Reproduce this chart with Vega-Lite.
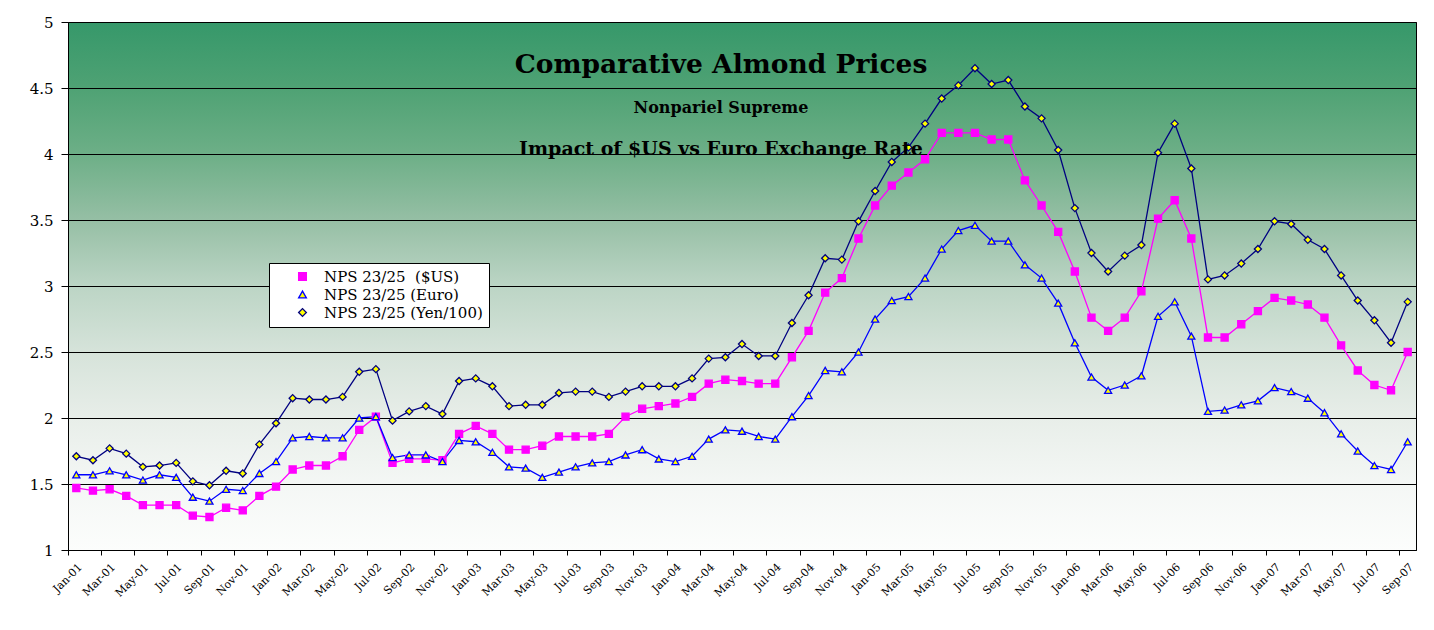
{
  "$schema": "https://vega.github.io/schema/vega-lite/v6.json",
  "width": 1348,
  "height": 528,
  "autosize": {"type": "none"},
  "padding": {"left": 68, "top": 22, "right": 18, "bottom": 80},
  "background": "white",
  "view": {
    "fill": {"gradient": "linear", "x1": 0, "y1": 1, "x2": 0, "y2": 0,
      "stops": [
        {"offset": 0, "color": "#fcfdfc"},
        {"offset": 0.125, "color": "#f4f7f5"},
        {"offset": 0.25, "color": "#e8eee9"},
        {"offset": 0.375, "color": "#d6e3da"},
        {"offset": 0.5, "color": "#bcd5c5"},
        {"offset": 0.625, "color": "#96bfa5"},
        {"offset": 0.75, "color": "#6daf87"},
        {"offset": 0.875, "color": "#4fa274"},
        {"offset": 1, "color": "#36986a"}
      ]},
    "stroke": "black",
    "strokeWidth": 1
  },
  "data": {"values": [
    {"m":"Jan-01","us":1.47,"eu":1.57,"yen":1.71},
    {"m":"Feb-01","us":1.45,"eu":1.57,"yen":1.68},
    {"m":"Mar-01","us":1.46,"eu":1.60,"yen":1.77},
    {"m":"Apr-01","us":1.41,"eu":1.57,"yen":1.73},
    {"m":"May-01","us":1.34,"eu":1.53,"yen":1.63},
    {"m":"Jun-01","us":1.34,"eu":1.57,"yen":1.64},
    {"m":"Jul-01","us":1.34,"eu":1.55,"yen":1.66},
    {"m":"Aug-01","us":1.26,"eu":1.40,"yen":1.52},
    {"m":"Sep-01","us":1.25,"eu":1.37,"yen":1.49},
    {"m":"Oct-01","us":1.32,"eu":1.46,"yen":1.60},
    {"m":"Nov-01","us":1.30,"eu":1.45,"yen":1.58},
    {"m":"Dec-01","us":1.41,"eu":1.58,"yen":1.80},
    {"m":"Jan-02","us":1.48,"eu":1.67,"yen":1.96},
    {"m":"Feb-02","us":1.61,"eu":1.85,"yen":2.15},
    {"m":"Mar-02","us":1.64,"eu":1.86,"yen":2.14},
    {"m":"Apr-02","us":1.64,"eu":1.85,"yen":2.14},
    {"m":"May-02","us":1.71,"eu":1.85,"yen":2.16},
    {"m":"Jun-02","us":1.91,"eu":2.00,"yen":2.35},
    {"m":"Jul-02","us":2.01,"eu":2.01,"yen":2.37},
    {"m":"Aug-02","us":1.66,"eu":1.70,"yen":1.98},
    {"m":"Sep-02","us":1.69,"eu":1.72,"yen":2.05},
    {"m":"Oct-02","us":1.69,"eu":1.72,"yen":2.09},
    {"m":"Nov-02","us":1.68,"eu":1.67,"yen":2.03},
    {"m":"Dec-02","us":1.88,"eu":1.83,"yen":2.28},
    {"m":"Jan-03","us":1.94,"eu":1.82,"yen":2.30},
    {"m":"Feb-03","us":1.88,"eu":1.74,"yen":2.24},
    {"m":"Mar-03","us":1.76,"eu":1.63,"yen":2.09},
    {"m":"Apr-03","us":1.76,"eu":1.62,"yen":2.10},
    {"m":"May-03","us":1.79,"eu":1.55,"yen":2.10},
    {"m":"Jun-03","us":1.86,"eu":1.59,"yen":2.19},
    {"m":"Jul-03","us":1.86,"eu":1.63,"yen":2.20},
    {"m":"Aug-03","us":1.86,"eu":1.66,"yen":2.20},
    {"m":"Sep-03","us":1.88,"eu":1.67,"yen":2.16},
    {"m":"Oct-03","us":2.01,"eu":1.72,"yen":2.20},
    {"m":"Nov-03","us":2.07,"eu":1.76,"yen":2.24},
    {"m":"Dec-03","us":2.09,"eu":1.69,"yen":2.24},
    {"m":"Jan-04","us":2.11,"eu":1.67,"yen":2.24},
    {"m":"Feb-04","us":2.16,"eu":1.71,"yen":2.30},
    {"m":"Mar-04","us":2.26,"eu":1.84,"yen":2.45},
    {"m":"Apr-04","us":2.29,"eu":1.91,"yen":2.46},
    {"m":"May-04","us":2.28,"eu":1.90,"yen":2.56},
    {"m":"Jun-04","us":2.26,"eu":1.86,"yen":2.47},
    {"m":"Jul-04","us":2.26,"eu":1.84,"yen":2.47},
    {"m":"Aug-04","us":2.46,"eu":2.01,"yen":2.72},
    {"m":"Sep-04","us":2.66,"eu":2.17,"yen":2.93},
    {"m":"Oct-04","us":2.95,"eu":2.36,"yen":3.21},
    {"m":"Nov-04","us":3.06,"eu":2.35,"yen":3.20},
    {"m":"Dec-04","us":3.36,"eu":2.50,"yen":3.49},
    {"m":"Jan-05","us":3.61,"eu":2.75,"yen":3.72},
    {"m":"Feb-05","us":3.76,"eu":2.89,"yen":3.94},
    {"m":"Mar-05","us":3.86,"eu":2.92,"yen":4.05},
    {"m":"Apr-05","us":3.96,"eu":3.06,"yen":4.23},
    {"m":"May-05","us":4.16,"eu":3.28,"yen":4.42},
    {"m":"Jun-05","us":4.16,"eu":3.42,"yen":4.52},
    {"m":"Jul-05","us":4.16,"eu":3.46,"yen":4.65},
    {"m":"Aug-05","us":4.11,"eu":3.34,"yen":4.53},
    {"m":"Sep-05","us":4.11,"eu":3.34,"yen":4.56},
    {"m":"Oct-05","us":3.80,"eu":3.16,"yen":4.36},
    {"m":"Nov-05","us":3.61,"eu":3.06,"yen":4.27},
    {"m":"Dec-05","us":3.41,"eu":2.87,"yen":4.03},
    {"m":"Jan-06","us":3.11,"eu":2.57,"yen":3.59},
    {"m":"Feb-06","us":2.76,"eu":2.31,"yen":3.25},
    {"m":"Mar-06","us":2.66,"eu":2.21,"yen":3.11},
    {"m":"Apr-06","us":2.76,"eu":2.25,"yen":3.23},
    {"m":"May-06","us":2.96,"eu":2.32,"yen":3.31},
    {"m":"Jun-06","us":3.51,"eu":2.77,"yen":4.01},
    {"m":"Jul-06","us":3.65,"eu":2.88,"yen":4.23},
    {"m":"Aug-06","us":3.36,"eu":2.62,"yen":3.89},
    {"m":"Sep-06","us":2.61,"eu":2.05,"yen":3.05},
    {"m":"Oct-06","us":2.61,"eu":2.06,"yen":3.08},
    {"m":"Nov-06","us":2.71,"eu":2.10,"yen":3.17},
    {"m":"Dec-06","us":2.81,"eu":2.13,"yen":3.28},
    {"m":"Jan-07","us":2.91,"eu":2.23,"yen":3.49},
    {"m":"Feb-07","us":2.89,"eu":2.20,"yen":3.47},
    {"m":"Mar-07","us":2.86,"eu":2.15,"yen":3.35},
    {"m":"Apr-07","us":2.76,"eu":2.04,"yen":3.28},
    {"m":"May-07","us":2.55,"eu":1.88,"yen":3.08},
    {"m":"Jun-07","us":2.36,"eu":1.75,"yen":2.89},
    {"m":"Jul-07","us":2.25,"eu":1.64,"yen":2.74},
    {"m":"Aug-07","us":2.21,"eu":1.61,"yen":2.57},
    {"m":"Sep-07","us":2.50,"eu":1.82,"yen":2.88}
  ]},
  "transform": [{"fold": ["us", "eu", "yen"], "as": ["s", "v"]}],
  "encoding": {
    "x": {
      "field": "m", "type": "ordinal", "sort": null, "bandPosition": 0.5,
      "scale": {"type": "band", "paddingInner": 0, "paddingOuter": 0},
      "axis": {
        "title": null,
        "values": ["Jan-01","Mar-01","May-01","Jul-01","Sep-01","Nov-01","Jan-02","Mar-02","May-02","Jul-02","Sep-02","Nov-02","Jan-03","Mar-03","May-03","Jul-03","Sep-03","Nov-03","Jan-04","Mar-04","May-04","Jul-04","Sep-04","Nov-04","Jan-05","Mar-05","May-05","Jul-05","Sep-05","Nov-05","Jan-06","Mar-06","May-06","Jul-06","Sep-06","Nov-06","Jan-07","Mar-07","May-07","Jul-07","Sep-07"],
        "bandPosition": 0,
        "labelAngle": -45,
        "labelFont": "DejaVu Serif",
        "labelFontSize": 11,
        "labelColor": "black",
        "tickColor": "black",
        "tickSize": 5,
        "domainColor": "black",
        "grid": false,
        "labelPadding": 6
      }
    },
    "y": {
      "field": "v", "type": "quantitative",
      "scale": {"domain": [1, 5], "nice": false, "zero": false},
      "axis": {
        "title": null,
        "values": [1, 1.5, 2, 2.5, 3, 3.5, 4, 4.5, 5],
        "format": "~g",
        "grid": true,
        "gridColor": "black",
        "gridOpacity": 1,
        "gridWidth": 1,
        "labelFont": "DejaVu Serif",
        "labelFontSize": 15,
        "labelColor": "black",
        "tickColor": "black",
        "tickSize": 7,
        "labelPadding": 8,
        "domainColor": "black"
      }
    }
  },
  "layer": [
    {
      "mark": {"type": "line", "strokeWidth": 1.3},
      "encoding": {
        "stroke": {"field": "s", "type": "nominal",
          "scale": {"domain": ["us", "eu", "yen"], "range": ["#ff00ff", "#0000ff", "#000080"]},
          "legend": {"title": null, "labelExpr": "datum.label == 'us' ? 'NPS 23/25\u00a0\u00a0($US)' : datum.label == 'eu' ? 'NPS 23/25 (Euro)' : 'NPS 23/25 (Yen/100)'"}}
      }
    },
    {
      "mark": {"type": "point", "filled": true, "size": 50, "strokeWidth": 1.3, "opacity": 1},
      "encoding": {
        "stroke": {"field": "s", "type": "nominal",
          "scale": {"domain": ["us", "eu", "yen"], "range": ["#ff00ff", "#0000ff", "#000080"]},
          "legend": {"title": null, "labelExpr": "datum.label == 'us' ? 'NPS 23/25\u00a0\u00a0($US)' : datum.label == 'eu' ? 'NPS 23/25 (Euro)' : 'NPS 23/25 (Yen/100)'"}},
        "fill": {"field": "s", "type": "nominal",
          "scale": {"domain": ["us", "eu", "yen"], "range": ["#ff00ff", "#ffff00", "#ffff00"]},
          "legend": {"title": null, "labelExpr": "datum.label == 'us' ? 'NPS 23/25\u00a0\u00a0($US)' : datum.label == 'eu' ? 'NPS 23/25 (Euro)' : 'NPS 23/25 (Yen/100)'"}},
        "shape": {"field": "s", "type": "nominal",
          "scale": {"domain": ["us", "eu", "yen"], "range": ["square", "triangle-up", "diamond"]},
          "legend": {"title": null, "labelExpr": "datum.label == 'us' ? 'NPS 23/25\u00a0\u00a0($US)' : datum.label == 'eu' ? 'NPS 23/25 (Euro)' : 'NPS 23/25 (Yen/100)'"}}
      }
    },
    {
      "data": {"values": [{"t": "Comparative Almond Prices", "y": 4.611}]},
      "transform": [],
      "mark": {"type": "text", "font": "DejaVu Serif", "fontWeight": "bold", "fontSize": 26.5, "baseline": "alphabetic", "align": "center", "dx": -21, "color": "black"},
      "encoding": {"x": null, "text": {"field": "t"}, "y": {"field": "y", "type": "quantitative"}}
    },
    {
      "data": {"values": [{"t": "Nonpariel Supreme", "y": 4.308}]},
      "transform": [],
      "mark": {"type": "text", "font": "DejaVu Serif", "fontWeight": "bold", "fontSize": 16, "baseline": "alphabetic", "align": "center", "dx": -21, "color": "black"},
      "encoding": {"x": null, "text": {"field": "t"}, "y": {"field": "y", "type": "quantitative"}}
    },
    {
      "data": {"values": [{"t": "Impact of $US vs Euro Exchange Rate", "y": 3.992}]},
      "transform": [],
      "mark": {"type": "text", "font": "DejaVu Serif", "fontWeight": "bold", "fontSize": 19, "baseline": "alphabetic", "align": "center", "dx": -21, "color": "black"},
      "encoding": {"x": null, "text": {"field": "t"}, "y": {"field": "y", "type": "quantitative"}}
    }
  ],
  "config": {
    "legend": {
      "orient": "none",
      "legendX": 201,
      "legendY": 241,
      "fillColor": "white",
      "strokeColor": "black",
      "padding": 6,
      "labelFont": "DejaVu Serif",
      "labelFontSize": 15,
      "labelColor": "black",
      "symbolSize": 60,
      "symbolStrokeWidth": 1.3,
      "symbolOffset": 20,
      "labelOffset": 14,
      "rowPadding": 2,
      "cornerRadius": 0
    }
  }
}
